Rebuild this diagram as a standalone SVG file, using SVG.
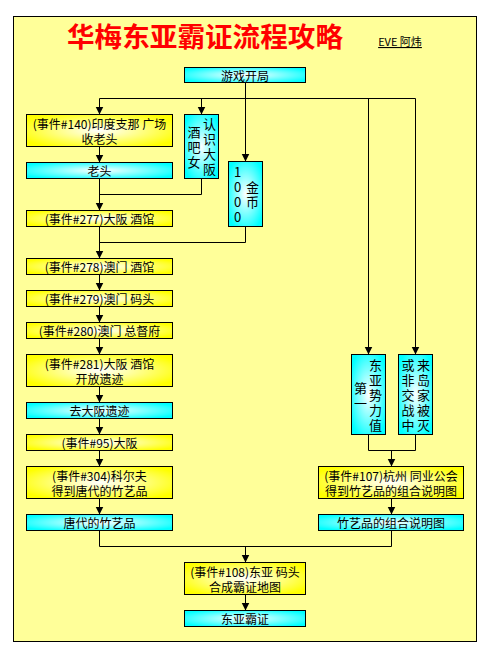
<svg xmlns="http://www.w3.org/2000/svg" width="490" height="659" viewBox="0 0 490 659">
<defs>
<radialGradient id="gy" cx="0.5" cy="0.5" r="0.6">
<stop offset="0" stop-color="#ffffff"/>
<stop offset="1" stop-color="#ffff00"/>
</radialGradient>
<radialGradient id="gc" cx="0.5" cy="0.5" r="0.6">
<stop offset="0" stop-color="#ffffff"/>
<stop offset="1" stop-color="#00ffff"/>
</radialGradient>
<marker id="ar" viewBox="0 0 10 10" refX="10" refY="5" markerUnits="userSpaceOnUse" markerWidth="8" markerHeight="9" orient="auto">
<path d="M0,0 L10,5 L0,10 z" fill="#000"/>
</marker>
</defs>
<style>
.y{fill:url(#gy);stroke:#000;stroke-width:1}
.c{fill:url(#gc);stroke:#000;stroke-width:1}
.t{font-family:"Noto Sans CJK SC","Liberation Sans",sans-serif;font-size:12px;fill:#000;text-anchor:middle;dominant-baseline:central}
.v{font-family:"Noto Sans CJK SC","Liberation Sans",sans-serif;font-size:13px;fill:#000;writing-mode:vertical-rl;text-orientation:upright;letter-spacing:2px;dominant-baseline:central;text-anchor:start}
#conn path{fill:none;stroke:#000;stroke-width:1}
</style>
<rect x="13.5" y="16.5" width="463" height="625" fill="#ffff99" stroke="#000" stroke-width="1"/>
<text x="205" y="35" font-family="'Noto Sans CJK SC',sans-serif" font-size="27" font-weight="bold" fill="#ff0000" text-anchor="middle" dominant-baseline="central" textLength="276" lengthAdjust="spacingAndGlyphs">华梅东亚霸证流程攻略</text>
<text x="400" y="41" font-family="'Noto Sans CJK SC',sans-serif" font-size="11" fill="#000" text-anchor="middle" dominant-baseline="central" text-decoration="underline">EVE 阿炜</text>

<g id="conn">
<path d="M245.5,82.5 V98.5"/>
<path d="M99.5,98.5 H415.5"/>
<path d="M99.5,98.5 V114.5" marker-end="url(#ar)"/>
<path d="M201.5,98.5 V114.5" marker-end="url(#ar)"/>
<path d="M245.5,98.5 V161.5" marker-end="url(#ar)"/>
<path d="M368.5,98.5 V354.5" marker-end="url(#ar)"/>
<path d="M415.5,98.5 V354.5" marker-end="url(#ar)"/>
<path d="M99.5,146.5 V162.5" marker-end="url(#ar)"/>
<path d="M99.5,178.5 V210.5" marker-end="url(#ar)"/>
<path d="M201.5,178.5 V194.5 H99.5"/>
<path d="M99.5,226.5 V258.5" marker-end="url(#ar)"/>
<path d="M245.5,226.5 V242.5 H99.5"/>
<path d="M99.5,274.5 V290.5" marker-end="url(#ar)"/>
<path d="M99.5,306.5 V322.5" marker-end="url(#ar)"/>
<path d="M99.5,338.5 V354.5" marker-end="url(#ar)"/>
<path d="M99.5,386.5 V402.5" marker-end="url(#ar)"/>
<path d="M99.5,418.5 V434.5" marker-end="url(#ar)"/>
<path d="M99.5,450.5 V466.5" marker-end="url(#ar)"/>
<path d="M99.5,498.5 V514.5" marker-end="url(#ar)"/>
<path d="M99.5,530.5 V546.5 H391.5"/>
<path d="M391.5,530.5 V546.5"/>
<path d="M245.5,546.5 V562.5" marker-end="url(#ar)"/>
<path d="M245.5,594.5 V610.5" marker-end="url(#ar)"/>
<path d="M368.5,434.5 V450.5 H415.5 V434.5"/>
<path d="M391.5,450.5 V466.5" marker-end="url(#ar)"/>
<path d="M391.5,498.5 V514.5" marker-end="url(#ar)"/>
</g>

<g id="start"><rect class="c" x="184.5" y="67.5" width="121" height="15"/><text class="t" x="245" y="75">游戏开局</text></g>
<g id="e140"><rect class="y" x="26.5" y="114.5" width="146" height="32"/><text class="t" x="99.5" y="123.5">(事件#140)印度支那 广场</text><text class="t" x="99.5" y="138.5">收老头</text></g>
<g id="laotou"><rect class="c" x="26.5" y="162.5" width="146" height="16"/><text class="t" x="99.5" y="170.5">老头</text></g>
<g id="renshi"><rect class="c" x="184.5" y="114.5" width="34" height="64"/>
<text class="v" x="209.5" y="117.5">认识大阪</text><text class="v" x="194" y="125.5">酒吧女</text></g>
<g id="jinbi"><rect class="c" x="228.5" y="161.5" width="34" height="65"/>
<text class="v" x="252.5" y="181">金币</text><text class="v" x="237.5" y="165.5">1000</text></g>
<g id="e277"><rect class="y" x="26.5" y="210.5" width="146" height="16"/><text class="t" x="99.5" y="218.5">(事件#277)大阪 酒馆</text></g>
<g id="e278"><rect class="y" x="26.5" y="258.5" width="146" height="16"/><text class="t" x="99.5" y="266.5">(事件#278)澳门 酒馆</text></g>
<g id="e279"><rect class="y" x="26.5" y="290.5" width="146" height="16"/><text class="t" x="99.5" y="298.5">(事件#279)澳门 码头</text></g>
<g id="e280"><rect class="y" x="26.5" y="322.5" width="146" height="16"/><text class="t" x="99.5" y="330.5">(事件#280)澳门 总督府</text></g>
<g id="e281"><rect class="y" x="26.5" y="354.5" width="146" height="32"/><text class="t" x="99.5" y="363.5">(事件#281)大阪 酒馆</text><text class="t" x="99.5" y="378">开放遗迹</text></g>
<g id="qu"><rect class="c" x="26.5" y="402.5" width="146" height="16"/><text class="t" x="99.5" y="410.5">去大阪遗迹</text></g>
<g id="e95"><rect class="y" x="26.5" y="434.5" width="146" height="16"/><text class="t" x="99.5" y="442.5">(事件#95)大阪</text></g>
<g id="e304"><rect class="y" x="26.5" y="466.5" width="146" height="32"/><text class="t" x="99.5" y="475">(事件#304)科尔夫</text><text class="t" x="99.5" y="490">得到唐代的竹艺品</text></g>
<g id="tangdai"><rect class="c" x="26.5" y="514.5" width="146" height="16"/><text class="t" x="99.5" y="522.5">唐代的竹艺品</text></g>
<g id="dongya"><rect class="c" x="351.5" y="354.5" width="34" height="80"/>
<text class="v" x="375.5" y="358.5">东亚势力值</text><text class="v" x="360.5" y="381.5">第一</text></g>
<g id="laidao"><rect class="c" x="398.5" y="354.5" width="34" height="80"/>
<text class="v" x="423.5" y="358.5">来岛家被灭</text><text class="v" x="408" y="358.5">或非交战中</text></g>
<g id="e107"><rect class="y" x="318.5" y="466.5" width="145" height="32"/><text class="t" x="391" y="475">(事件#107)杭州 同业公会</text><text class="t" x="391" y="490">得到竹艺品的组合说明图</text></g>
<g id="zhuyi"><rect class="c" x="318.5" y="514.5" width="145" height="16"/><text class="t" x="391" y="522.5">竹艺品的组合说明图</text></g>
<g id="e108"><rect class="y" x="184.5" y="562.5" width="121" height="32"/><text class="t" x="245" y="571.5">(事件#108)东亚 码头</text><text class="t" x="245" y="586.5">合成霸证地图</text></g>
<g id="final"><rect class="c" x="184.5" y="610.5" width="121" height="16"/><text class="t" x="245" y="618.5">东亚霸证</text></g>
</svg>
